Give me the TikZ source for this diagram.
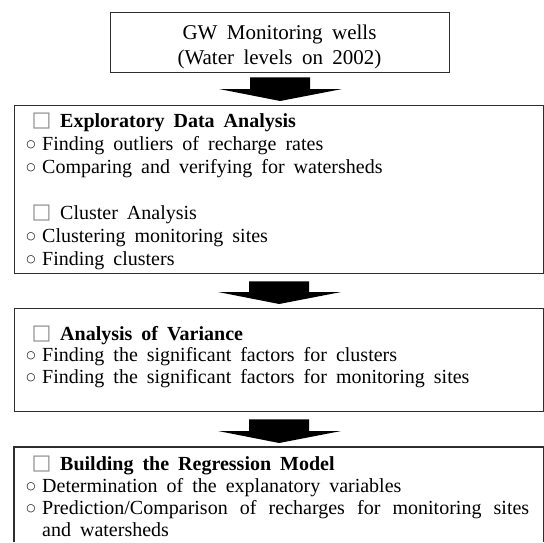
\documentclass[tikz,border=0pt]{standalone}
\usepackage{fontspec}
\setmainfont{Liberation Serif}[WordSpace={1.8}]
\newfontfamily\symfont{DejaVu Sans}
\usetikzlibrary{calc}
\newcommand\blkarrow[3]{%
  \fill ($(#1.south)+(-30,#3)$) -- ($(#1.south)+(30,#3)$)
    -- ($(#1.south |- #2.north)+(30,-16)$) -- ($(#1.south |- #2.north)+(62,-16)$)
    -- ($(#1.south |- #2.north)+(0,-4)$) -- ($(#1.south |- #2.north)+(-61,-16)$)
    -- ($(#1.south |- #2.north)+(-30,-16)$) -- cycle;}
\begin{document}
\begin{tikzpicture}[x=1pt,y=-1pt,
  box/.style={draw=black!82, line width=1.3pt, inner sep=0pt, anchor=north west},
  boxline/.style={draw=black!82, line width=1.3pt},
  txt/.style={anchor=base west, inner sep=0pt, font=\fontsize{20}{22}\selectfont},
  ctxt/.style={anchor=base, inner sep=0pt, font=\fontsize{21}{23}\selectfont},
  bul/.style={anchor=center, inner sep=0pt, font=\symfont\fontsize{10.5}{10.5}\selectfont},
  chk/.style={anchor=center, inner sep=0pt, text=black!45, font=\symfont\fontsize{21}{21}\selectfont}
]
\useasboundingbox (0,0) rectangle (544,542);
\node[box, minimum width=339pt, minimum height=60pt] (b1) at (110,12) {};
\node[box, minimum width=529pt, minimum height=168pt] (b2) at (14,105) {};
\node[box, minimum width=529pt, minimum height=103pt] (b3) at (14,308) {};
\node[anchor=north west, inner sep=0pt, minimum width=529pt, minimum height=95pt] (b4) at (14,447) {};
\draw[boxline] (b4.south west) -- (b4.north west) -- (b4.north east) -- (b4.south east);

\blkarrow{b1}{b2}{4}
\blkarrow{b2}{b3}{7}
\blkarrow{b3}{b4}{7}

% top box
\node[ctxt] (t1) at (279.5,39) {GW Monitoring wells};
\node[ctxt] (t2) at (279.5,64) {(Water levels on 2002)};

% box 2
\node[chk] (c21) at (41.5,121) {□};
\node[txt] (h21) at (60,127) {\bfseries Exploratory Data Analysis};
\node[bul] (o21) at (31,144.5) {○};
\node[txt] (l21) at (42,150) {Finding outliers of recharge rates};
\node[bul] (o22) at (31,167.5) {○};
\node[txt] (l22) at (42,173) {Comparing and verifying for watersheds};
\node[chk] (c22) at (41.5,213) {□};
\node[txt] (h22) at (60,219) {Cluster Analysis};
\node[bul] (o23) at (31,236.5) {○};
\node[txt] (l23) at (42,242) {Clustering monitoring sites};
\node[bul] (o24) at (31,259.5) {○};
\node[txt] (l24) at (42,265) {Finding clusters};

% box 3
\node[chk] (c31) at (41.5,334) {□};
\node[txt] (h31) at (60,340) {\bfseries Analysis of Variance};
\node[bul] (o31) at (31,355.5) {○};
\node[txt] (l31) at (42,361) {Finding the significant factors for clusters};
\node[bul] (o32) at (31,377.5) {○};
\node[txt] (l32) at (42,383) {Finding the significant factors for monitoring sites};

% box 4
\node[chk] (c41) at (41.5,464) {□};
\node[txt] (h41) at (60,470) {\bfseries Building the Regression Model};
\node[bul] (o41) at (31,486.5) {○};
\node[txt] (l41) at (42,492) {Determination of the explanatory variables};
\node[bul] (o42) at (31,508.5) {○};
\node[txt] (l42) at (42,514) {\makebox[487pt][s]{Prediction/Comparison of recharges for monitoring sites}};
\node[txt] (l43) at (42,536) {and watersheds};
\end{tikzpicture}
\end{document}
